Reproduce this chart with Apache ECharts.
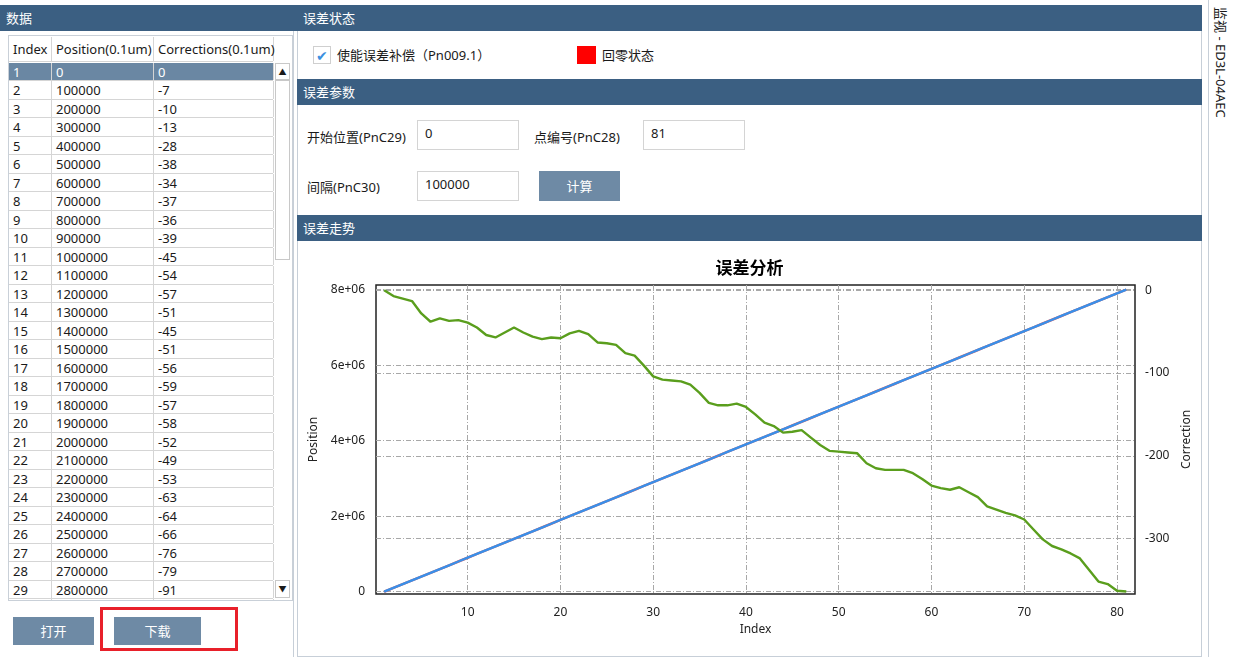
<!DOCTYPE html>
<html>
<head>
<meta charset="utf-8">
<script src="https://cdn.jsdelivr.net/npm/echarts@6/dist/echarts.min.js"></script>
<style>
  body{margin:0;width:1243px;height:657px;background:#fff;position:relative;overflow:hidden;
       font-family:"Noto Sans","Noto Sans CJK SC",sans-serif;font-size:13px;color:#1a1a1a}
  .abs{position:absolute}
  .bar{position:absolute;background:#3b5f82;color:#fff;height:26px;line-height:26px;padding-left:6px;box-sizing:border-box;font-size:13px}
  .btn{position:absolute;background:#6e8aa5;color:#fff;text-align:center;font-size:13px}
  .inp{position:absolute;border:1px solid #d4d4d4;box-sizing:border-box;padding:3px 0 0 7px;font-size:13px}
  #tbl{position:absolute;left:8px;top:35px;width:285px;height:566px;border:1px solid #c9d0d8;box-sizing:border-box;overflow:hidden}
  .row{position:absolute;left:0;height:18.5px;line-height:18px;width:264px;border-bottom:1px solid #d5d5d5;box-sizing:border-box}
  .row span,.hd span{position:absolute;top:0;height:100%;border-right:1px solid #d5d5d5;box-sizing:border-box;padding-left:4px;white-space:nowrap}
  .sel{background:#6a87a3;color:#fff}
  .hd{position:absolute;left:0;top:1px;height:25px;line-height:25px;width:264px;border-bottom:1px solid #d5d5d5;box-sizing:border-box}
</style>
</head>
<body>
<!-- left panel -->
<div class="bar" style="left:0;top:5px;width:297px">数据</div>
<div class="abs" style="left:293px;top:31px;width:1px;height:626px;background:#c7cfd8"></div>
<div id="tbl">
  <div class="hd"><span style="left:0;width:43px">Index</span><span style="left:43px;width:102px">Position(0.1um)</span><span style="left:145px;width:120px">Corrections(0.1um)</span></div>
  <div id="rows"></div>
  <div class="abs" style="left:266px;top:26.5px;width:15px;height:17px;border:1px solid #c8c8c8;box-sizing:border-box;font-size:8px;text-align:center;line-height:15px;background:#fff">&#9650;</div>
  <div class="abs" style="left:266px;top:43.5px;width:15px;height:180px;border:1px solid #c8c8c8;box-sizing:border-box;background:#fff"></div>
  <div class="abs" style="left:266px;top:544px;width:15px;height:18px;border:1px solid #c8c8c8;box-sizing:border-box;font-size:8px;text-align:center;line-height:16px;background:#fff">&#9660;</div>
</div>
<div class="btn" style="left:13px;top:617px;width:81px;height:28px;line-height:28px">打开</div>
<div class="btn" style="left:114px;top:617px;width:87px;height:28px;line-height:28px">下载</div>
<div class="abs" style="left:100px;top:607px;width:138px;height:44px;border:3px solid #e8202a;box-sizing:border-box"></div>

<!-- right panel -->
<div class="abs" style="left:297px;top:5px;width:905px;height:652px;border:1px solid #c7cfd8;border-top:none;box-sizing:border-box"></div>
<div class="bar" style="left:297px;top:5px;width:905px">误差状态</div>
<div class="abs" style="left:313px;top:46px;width:18px;height:18px;border:1px solid #cfcfcf;box-sizing:border-box;color:#3a8fe0;font-size:14px;line-height:17px;text-align:center">&#10004;</div>
<div class="abs" style="left:337px;top:45px;line-height:20px">使能误差补偿（Pn009.1）</div>
<div class="abs" style="left:577px;top:46px;width:19px;height:18px;background:#ff0000"></div>
<div class="abs" style="left:602px;top:45px;line-height:20px">回零状态</div>

<div class="bar" style="left:297px;top:79px;width:905px">误差参数</div>
<div class="abs" style="left:307px;top:127px;line-height:20px">开始位置(PnC29)</div>
<div class="inp" style="left:417px;top:120px;width:102px;height:30px">0</div>
<div class="abs" style="left:534px;top:127px;line-height:20px">点编号(PnC28)</div>
<div class="inp" style="left:643px;top:120px;width:102px;height:30px">81</div>
<div class="abs" style="left:307px;top:177px;line-height:20px">间隔(PnC30)</div>
<div class="inp" style="left:417px;top:171px;width:102px;height:30px">100000</div>
<div class="btn" style="left:539px;top:171px;width:81px;height:30px;line-height:30px">计算</div>

<div class="bar" style="left:297px;top:215px;width:905px">误差走势</div>
<div id="chart" class="abs" style="left:298px;top:241px;width:903px;height:416px"></div>

<div class="abs" style="left:1208px;top:0;width:1px;height:657px;background:#c7cfd8"></div>
<div class="abs" style="left:1166px;top:54px;width:110px;height:16px;line-height:16px;transform:rotate(90deg);transform-origin:center;white-space:nowrap">监视 - ED3L-04AEC</div>

<script>
// point index, nominal position and measured correction (0.1um)
var indexes = [1,2,3,4,5,6,7,8,9,10,11,12,13,14,15,16,17,18,19,20,21,22,23,24,25,26,27,28,29,30,
  31,32,33,34,35,36,37,38,39,40,41,42,43,44,45,46,47,48,49,50,51,52,53,54,55,56,57,58,59,60,
  61,62,63,64,65,66,67,68,69,70,71,72,73,74,75,76,77,78,79,80,81];
var positions = [0,100000,200000,300000,400000,500000,600000,700000,800000,900000,
  1000000,1100000,1200000,1300000,1400000,1500000,1600000,1700000,1800000,1900000,
  2000000,2100000,2200000,2300000,2400000,2500000,2600000,2700000,2800000,2900000,
  3000000,3100000,3200000,3300000,3400000,3500000,3600000,3700000,3800000,3900000,
  4000000,4100000,4200000,4300000,4400000,4500000,4600000,4700000,4800000,4900000,
  5000000,5100000,5200000,5300000,5400000,5500000,5600000,5700000,5800000,5900000,
  6000000,6100000,6200000,6300000,6400000,6500000,6600000,6700000,6800000,6900000,
  7000000,7100000,7200000,7300000,7400000,7500000,7600000,7700000,7800000,7900000,8000000];
var corrections = [0,-7,-10,-13,-28,-38,-34,-37,-36,-39,-45,-54,-57,-51,-45,-51,-56,-59,-57,-58,
  -52,-49,-53,-63,-64,-66,-76,-79,-91,-104,-108,-109,-110,-114,-124,-136,-139,-139,-137,-141,
  -150,-160,-164,-172,-171,-169,-178,-187,-194,-195,-196,-197,-209,-215,-217,-217,-217,-221,-228,-236,
  -239,-241,-238,-244,-250,-261,-265,-269,-272,-277,-289,-301,-309,-313,-318,-324,-338,-352,-355,-363,-364];
var positionTicks = [0,2000000,4000000,6000000,8000000];
var correctionTicks = [-300,-200,-100,0];
var indexTicks = [10,20,30,40,50,60,70,80];

// table
var rowsEl = document.getElementById('rows');
var html = '';
for (var k = 0; k < indexes.length; k++) {
  var rowTop = 26.5 + k * 18.5;
  if (rowTop > 566) break;
  html += '<div class="row' + (k === 0 ? ' sel' : '') + '" style="top:' + rowTop + 'px">' +
    '<span style="left:0;width:43px">' + indexes[k] + '</span>' +
    '<span style="left:43px;width:102px">' + positions[k] + '</span>' +
    '<span style="left:145px;width:120px">' + corrections[k] + '</span></div>';
}
rowsEl.innerHTML = html;

function onTick(list, v) {
  for (var i = 0; i < list.length; i++) if (Math.abs(list[i] - v) < 1e-6 * Math.max(1, Math.abs(v))) return true;
  return false;
}

var chart = echarts.init(document.getElementById('chart'), null, {renderer: 'canvas'});
var dash = [5, 2, 1, 2];
var font = '"Noto Sans","Noto Sans CJK SC",sans-serif';

chart.setOption({
  animation: false,
  textStyle: {fontFamily: font},
  title: {
    text: '误差分析', left: 'center', top: 15,
    textStyle: {fontSize: 17, fontWeight: 'bold', color: '#000', fontFamily: font}
  },
  grid: {
    left: 78, right: 66, top: 44, bottom: 63, outerBoundsMode: 'none',
    show: true, borderColor: '#222', borderWidth: 1.5
  },
  xAxis: {
    type: 'value', min: 0.12, max: 81.94, minInterval: 10, maxInterval: 10,
    name: 'Index', nameLocation: 'middle', nameGap: 30,
    nameTextStyle: {fontSize: 12, color: '#222'},
    axisLine: {show: false}, axisTick: {show: false},
    axisLabel: {margin: 13, fontSize: 12, color: '#222',
      formatter: function (v) { return onTick(indexTicks, v) ? String(Math.round(v)) : ''; }},
    splitLine: {show: true, showMinLine: false, showMaxLine: false, lineStyle: {color: '#a8a8a8', type: dash, width: 1}}
  },
  yAxis: [{
    type: 'value', min: -60000, max: 8120000, minInterval: 2000000, maxInterval: 2000000,
    name: 'Position', nameLocation: 'middle', nameGap: 47,
    nameTextStyle: {fontSize: 12, color: '#222'},
    axisLine: {show: false}, axisTick: {show: false},
    axisLabel: {margin: 11, fontSize: 12, color: '#222',
      formatter: function (v) {
        if (!onTick(positionTicks, v)) return '';
        return v === 0 ? '0' : (v / 1000000) + 'e+06';
      }},
    splitLine: {show: true, showMinLine: false, showMaxLine: false, lineStyle: {color: '#a8a8a8', type: dash, width: 1}}
  }, {
    type: 'value', min: -367, max: 6.4, minInterval: 100, maxInterval: 100,
    name: 'Correction', nameLocation: 'middle', nameGap: 37,
    nameTextStyle: {fontSize: 12, color: '#222'},
    axisLine: {show: false}, axisTick: {show: false},
    axisLabel: {margin: 10, fontSize: 12, color: '#222',
      formatter: function (v) { return onTick(correctionTicks, v) ? String(Math.round(v)) : ''; }},
    splitLine: {show: true, showMinLine: false, showMaxLine: false, lineStyle: {color: '#a8a8a8', type: dash, width: 1}}
  }],
  series: [{
    name: 'PositionRef', type: 'line', yAxisIndex: 0, symbol: 'none',
    lineStyle: {color: '#e06060', width: 2.5},
    data: indexes.map(function (i, k) { return [i, positions[k]]; })
  }, {
    name: 'Position', type: 'line', yAxisIndex: 0, symbol: 'none',
    lineStyle: {color: '#3a8fe8', width: 2.4},
    data: indexes.map(function (i, k) { return [i, positions[k]]; })
  }, {
    name: 'Correction', type: 'line', yAxisIndex: 1, symbol: 'none',
    lineStyle: {color: '#5a9e1d', width: 2.4},
    data: indexes.map(function (i, k) { return [i, corrections[k]]; })
  }]
});
</script>
</body>
</html>
